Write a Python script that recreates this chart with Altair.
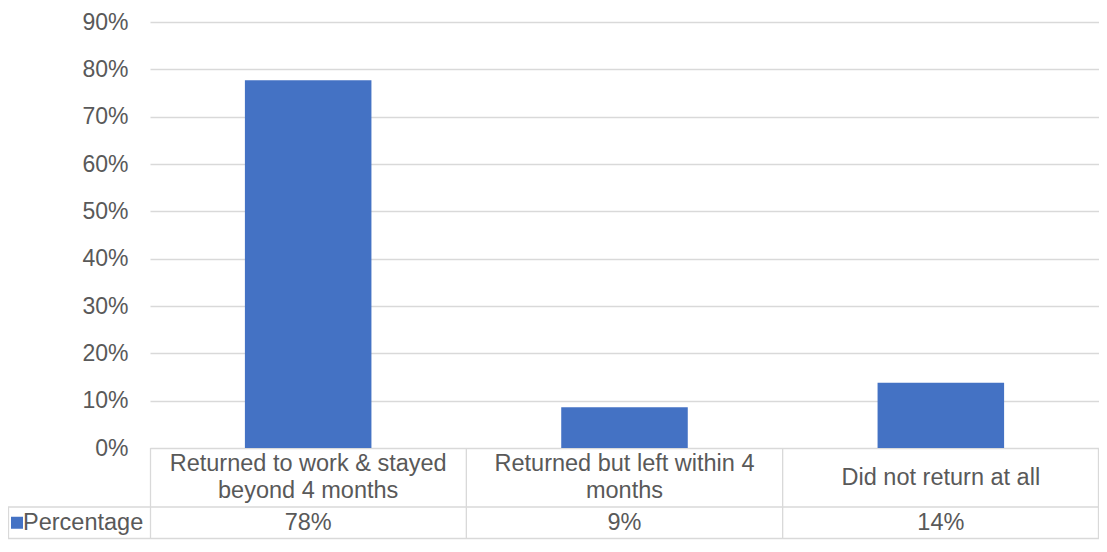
import altair as alt
import pandas as pd

# ---- data ----
categories = [
    "Returned to work & stayed beyond 4 months",
    "Returned but left within 4 months",
    "Did not return at all",
]
table_labels = [
    "Returned to work & stayed\nbeyond 4 months",
    "Returned but left within 4\nmonths",
    "Did not return at all",
]
values = [0.777, 0.086, 0.138]
series_name = "Percentage"
y_ticks = [0, 0.1, 0.2, 0.3, 0.4, 0.5, 0.6, 0.7, 0.8, 0.9]

# ---- layout (pixels) ----
W, H = 949, 426
PAD_L, PAD_T = 142, 14
TOTAL_H = 532
HEADER_H, ROW_H = 59, 31.5
LINE_H = 27
FONT = "Liberation Sans"
TXT = "#595959"
GRID = "#d9d9d9"
BAR = "#4472C4"
FS = 23.5

df = pd.DataFrame({"cat": categories, "label": table_labels, "value": values})

xenc = alt.X("cat:N", sort=categories, axis=None,
             scale=alt.Scale(paddingInner=0.6, paddingOuter=0.3))

bars = alt.Chart(df).mark_bar(color=BAR).encode(
    x=xenc,
    y=alt.Y("value:Q", title=None,
            scale=alt.Scale(domain=[0, 0.9], nice=False),
            axis=alt.Axis(format=".0%", values=y_ticks, grid=True, gridColor=GRID,
                          gridWidth=1.3, domain=False, ticks=False,
                          labelFontSize=23, labelColor=TXT, labelFont=FONT,
                          labelPadding=22)),
)

header_y = H + HEADER_H / 2
row_top = H + HEADER_H
row_y = row_top + ROW_H / 2
bottom = row_top + ROW_H

cat_text_2 = alt.Chart(df).transform_filter(
    "indexof(datum.label, '\\n') >= 0"
).mark_text(
    font=FONT, fontSize=FS, color=TXT, lineBreak="\n", lineHeight=LINE_H,
    baseline="middle", align="center"
).encode(x=xenc, y=alt.value(header_y - LINE_H / 2), text="label:N")

cat_text_1 = alt.Chart(df).transform_filter(
    "indexof(datum.label, '\\n') < 0"
).mark_text(
    font=FONT, fontSize=FS, color=TXT, baseline="middle", align="center"
).encode(x=xenc, y=alt.value(header_y), text="label:N")

val_text = alt.Chart(df).mark_text(
    font=FONT, fontSize=FS, color=TXT, baseline="middle", align="center"
).encode(x=xenc, y=alt.value(row_y), text=alt.Text("value:Q", format=".0%"))

# table grid lines (decoration)
segs = pd.DataFrame({
    "x":  [-PAD_L, -PAD_L, 0.5, W / 3, 2 * W / 3, W - 0.5, -PAD_L + 0.5],
    "x2": [W, W, 0.5, W / 3, 2 * W / 3, W - 0.5, -PAD_L + 0.5],
    "y":  [row_top, bottom, H, H, H, H, row_top],
    "y2": [row_top, bottom, bottom, bottom, bottom, bottom, bottom],
})
lines = alt.Chart(segs).mark_rule(color=GRID, strokeWidth=1.3).encode(
    x=alt.X("x:Q", scale=None), x2="x2:Q",
    y=alt.Y("y:Q", scale=None), y2="y2:Q",
)

legend_df = pd.DataFrame({"name": [series_name]})
legend_sq = alt.Chart(legend_df).mark_square(color=BAR, size=144, opacity=1).encode(
    x=alt.value(-PAD_L + 9), y=alt.value(row_y))
legend_txt = alt.Chart(legend_df).mark_text(
    font=FONT, fontSize=FS, color=TXT, align="left", baseline="middle"
).encode(x=alt.value(-PAD_L + 15), y=alt.value(row_y), text="name:N")

chart = alt.layer(bars, lines, cat_text_2, cat_text_1, val_text, legend_sq, legend_txt).properties(
    width=W, height=H,
    autosize=alt.AutoSizeParams(type="none"),
    padding={"left": PAD_L, "top": PAD_T, "right": 0, "bottom": TOTAL_H - PAD_T - H},
).resolve_scale(x="shared").configure_view(stroke=None)

chart.save("out.html", embed_options={"renderer": "svg", "actions": False})
